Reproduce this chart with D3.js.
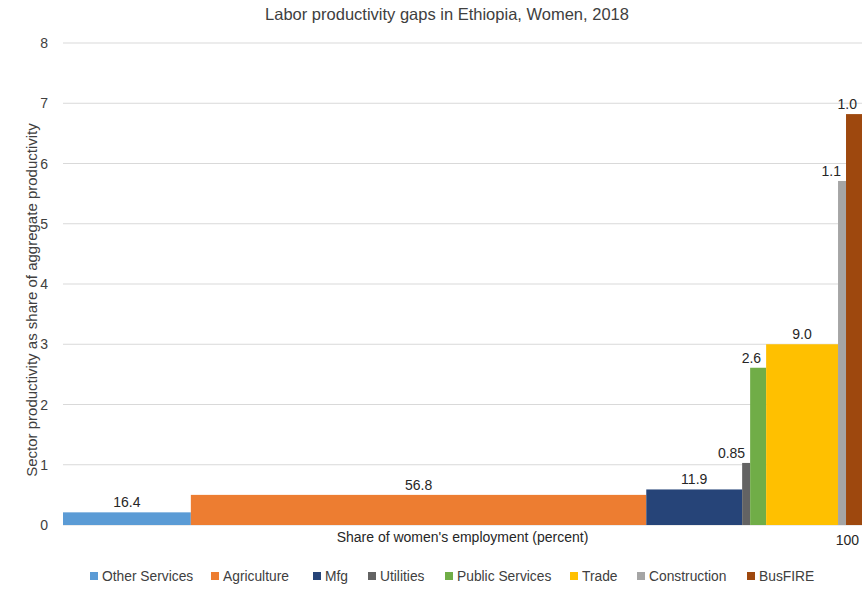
<!DOCTYPE html>
<html>
<head>
<meta charset="utf-8">
<script src="https://cdn.jsdelivr.net/npm/d3@7"></script>
<style>
  body { margin: 0; background: #fff; }
  text { font-family: "Liberation Sans", Arial, sans-serif; }
</style>
</head>
<body>
<div id="chart"></div>
<script>
// sectors, left to right
const sectors = ["Other Services", "Agriculture", "Mfg", "Utilities", "Public Services", "Trade", "Construction", "BusFIRE"];
// share of women's employment (percent), as labelled
const shareLabels = ["16.4", "56.8", "11.9", "0.85", "2.6", "9.0", "1.1", "1.0"];
// bar widths as drawn on the 0-100 employment axis
const shareWidths = [16, 57, 12, 1, 2, 9, 1, 2];
// sector productivity as share of aggregate productivity
const productivity = [0.21, 0.5, 0.59, 1.03, 2.61, 3.0, 5.71, 6.82];
const colors = ["#5b9bd5", "#ed7d31", "#264478", "#636363", "#70ad47", "#ffc000", "#a5a5a5", "#9e480e"];
const yTicks = [0, 1, 2, 3, 4, 5, 6, 7, 8];

const width = 867, height = 590;
const margin = { top: 43, right: 5, bottom: 65, left: 63 };

const svg = d3.select("#chart").append("svg")
    .attr("width", width)
    .attr("height", height);

const x = d3.scaleLinear().domain([0, 100]).range([margin.left, width - margin.right]);
const y = d3.scaleLinear().domain([0, 8]).range([height - margin.bottom, margin.top]);

// build cumulative positions
let acc = 0;
const bars = sectors.map((s, i) => {
    const d = { name: s, label: shareLabels[i], x0: acc, x1: acc + shareWidths[i], v: productivity[i], color: colors[i] };
    acc += shareWidths[i];
    return d;
});

// title
svg.append("text")
    .attr("x", 447).attr("y", 20)
    .attr("text-anchor", "middle")
    .style("font-size", "16.5px")
    .style("fill", "#404040")
    .text("Labor productivity gaps in Ethiopia, Women, 2018");

// gridlines
svg.append("g").selectAll("line")
    .data(yTicks)
    .join("line")
    .attr("x1", x(0)).attr("x2", x(100))
    .attr("y1", d => y(d)).attr("y2", d => y(d))
    .attr("stroke", "#d9d9d9")
    .attr("stroke-width", 1);

// y axis labels
svg.append("g").selectAll("text")
    .data(yTicks)
    .join("text")
    .attr("x", 48)
    .attr("y", d => y(d) + 5)
    .attr("text-anchor", "end")
    .style("font-size", "14px")
    .style("fill", "#404040")
    .text(d => d);

svg.append("text")
    .attr("transform", `translate(37,300) rotate(-90)`)
    .attr("text-anchor", "middle")
    .style("font-size", "15px")
    .style("fill", "#404040")
    .text("Sector productivity as share of aggregate productivity");

// bars
svg.append("g").selectAll("rect")
    .data(bars)
    .join("rect")
    .attr("x", d => x(d.x0))
    .attr("width", d => x(d.x1) - x(d.x0))
    .attr("y", d => y(d.v))
    .attr("height", d => y(0) - y(d.v))
    .attr("fill", d => d.color);

// data labels (narrow bars get their label pushed left)
svg.append("g").selectAll("text")
    .data(bars)
    .join("text")
    .attr("x", d => (d.x1 - d.x0) < 3 ? Math.min(x(d.x1) - 5, width - 5) : (x(d.x0) + x(d.x1)) / 2)
    .attr("y", d => y(d.v) - 5)
    .attr("text-anchor", d => (d.x1 - d.x0) < 3 ? "end" : "middle")
    .style("font-size", "14px")
    .style("fill", "#262626")
    .text(d => d.label);

// x axis
svg.append("text")
    .attr("x", (x(0) + x(100)) / 2)
    .attr("y", 542)
    .attr("text-anchor", "middle")
    .style("font-size", "14px")
    .style("fill", "#262626")
    .text("Share of women's employment (percent)");

svg.append("text")
    .attr("x", x(100) - 3)
    .attr("y", 545)
    .attr("text-anchor", "end")
    .style("font-size", "14px")
    .style("fill", "#262626")
    .text("100");

// legend
const legendX = [90, 211, 313, 368, 445, 570, 637, 747];
const legend = svg.append("g").selectAll("g")
    .data(bars)
    .join("g")
    .attr("transform", (d, i) => `translate(${legendX[i]},576)`);
legend.append("rect")
    .attr("x", 0).attr("y", -4)
    .attr("width", 8).attr("height", 8)
    .attr("fill", d => d.color);
legend.append("text")
    .attr("x", 12).attr("y", 5)
    .style("font-size", "13.8px")
    .style("fill", "#404040")
    .text(d => d.name);
</script>
</body>
</html>
